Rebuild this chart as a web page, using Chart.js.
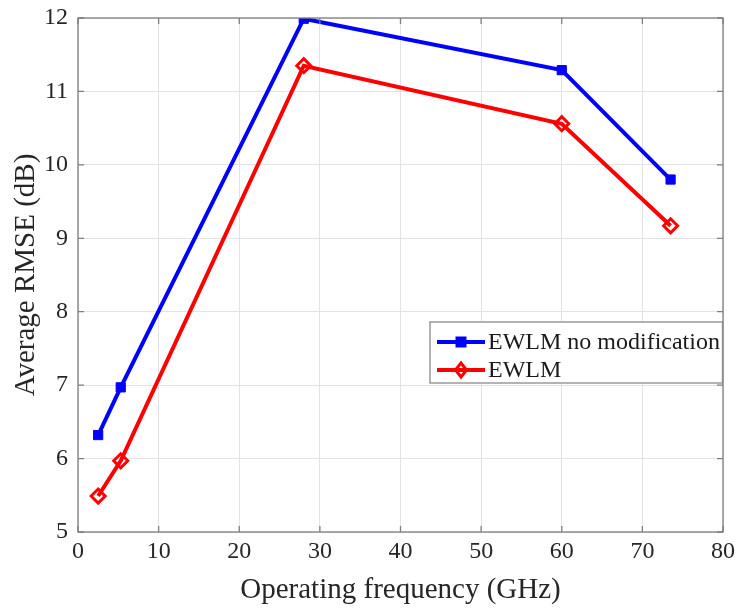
<!DOCTYPE html>
<html><head><meta charset="utf-8">
<script src="https://cdn.jsdelivr.net/npm/chart.js@4/dist/chart.umd.min.js"></script>
<style>html,body{margin:0;padding:0;background:#fff}#wrap{width:741px;height:608px}</style>
</head><body><div id="wrap"><canvas id="c" width="741" height="608"></canvas></div>
<script>
const frequencies = [2.5, 5.3, 28, 60, 73.5];
const rmseNoMod = [6.32, 6.97, 11.99, 11.29, 9.80];
const rmseEwlm = [5.49, 5.97, 11.35, 10.56, 9.17];
const seriesLabels = ['EWLM no modification', 'EWLM'];
const xTicks = [0, 10, 20, 30, 40, 50, 60, 70, 80];
const yTicks = [5, 6, 7, 8, 9, 10, 11, 12];

const FONT = 'Liberation Serif';
const AX = '#7f7f7f';

const frame = {
  id: 'frame',
  afterDraw(chart) {
    const {ctx, chartArea: a, scales} = chart;
    ctx.save();
    ctx.strokeStyle = AX; ctx.lineWidth = 1.3;
    ctx.strokeRect(a.left, a.top, a.right - a.left, a.bottom - a.top);
    const tl = 6;
    ctx.beginPath();
    xTicks.forEach(v => { const x = scales.x.getPixelForValue(v);
      ctx.moveTo(x, a.bottom); ctx.lineTo(x, a.bottom - tl);
      ctx.moveTo(x, a.top); ctx.lineTo(x, a.top + tl); });
    yTicks.forEach(v => { const y = scales.y.getPixelForValue(v);
      ctx.moveTo(a.left, y); ctx.lineTo(a.left + tl, y);
      ctx.moveTo(a.right, y); ctx.lineTo(a.right - tl, y); });
    ctx.stroke();
    // legend
    const bx = 430, by = 322, bw = a.right - bx - 0.5, bh = 61;
    ctx.fillStyle = '#fff';
    ctx.fillRect(bx, by, bw, bh);
    ctx.strokeStyle = '#8a8a8a'; ctx.lineWidth = 1.3;
    ctx.strokeRect(bx, by, bw, bh);
    ctx.font = '24px "' + FONT + '"';
    ctx.textBaseline = 'middle';
    chart.data.datasets.forEach((ds, i) => {
      const y = by + 20 + i * 28;
      ctx.strokeStyle = ds.borderColor; ctx.lineWidth = 4;
      ctx.beginPath(); ctx.moveTo(bx + 7, y); ctx.lineTo(bx + 55, y); ctx.stroke();
      ctx.lineWidth = 3;
      const cx = bx + 31;
      if (i === 0) { ctx.fillStyle = ds.borderColor; ctx.fillRect(cx - 5.5, y - 5.5, 11, 11); }
      else { ctx.beginPath(); ctx.moveTo(cx, y - 7); ctx.lineTo(cx + 5.5, y); ctx.lineTo(cx, y + 7); ctx.lineTo(cx - 5.5, y); ctx.closePath(); ctx.stroke(); }
      ctx.fillStyle = '#1a1a1a';
      ctx.fillText(ds.label, bx + 58, y + 1);
    });
    ctx.restore();
  }
};

new Chart(document.getElementById('c'), {
  type: 'line',
  data: {
    datasets: [
      { label: seriesLabels[0], data: frequencies.map((f, i) => ({x: f, y: rmseNoMod[i]})),
        borderColor: '#0000ff', backgroundColor: '#0000ff', borderWidth: 4,
        pointStyle: 'rect', pointRadius: 6.5, pointBorderWidth: 1, pointBackgroundColor: '#0000ff' },
      { label: seriesLabels[1], data: frequencies.map((f, i) => ({x: f, y: rmseEwlm[i]})),
        borderColor: '#ff0000', backgroundColor: '#ffffff', borderWidth: 4,
        pointStyle: 'rectRot', pointRadius: 7, pointBorderWidth: 3, pointBackgroundColor: 'rgba(255,255,255,0)' }
    ]
  },
  options: {
    responsive: false, animation: false, devicePixelRatio: 1,
    layout: { padding: { top: 18, right: 18, left: 0, bottom: 0 } },
    plugins: { legend: { display: false }, tooltip: { enabled: false } },
    scales: {
      x: { type: 'linear', min: 0, max: 80,
        afterBuildTicks: s => { s.ticks = xTicks.map(v => ({value: v})); },
        afterFit: s => { s.height = 76; s.paddingLeft = 0; s.paddingRight = 0; },
        grid: { color: '#e3e3e3', lineWidth: 1, drawTicks: false },
        border: { display: false },
        ticks: { color: '#262626', font: { family: FONT, size: 24 }, padding: 5, maxRotation: 0 },
        title: { display: true, text: 'Operating frequency (GHz)', color: '#262626', font: { family: FONT, size: 29 }, padding: { top: 2, bottom: 0 } } },
      y: { type: 'linear', min: 5, max: 12,
        afterBuildTicks: s => { s.ticks = yTicks.map(v => ({value: v})); },
        afterFit: s => { s.width = 78; s.paddingTop = 0; s.paddingBottom = 0; },
        grid: { color: '#e3e3e3', lineWidth: 1, drawTicks: false },
        border: { display: false },
        ticks: { color: '#262626', font: { family: FONT, size: 24 }, padding: 10 },
        title: { display: true, text: 'Average RMSE (dB)', color: '#262626', font: { family: FONT, size: 29 }, padding: { top: 9, bottom: 9 } } }
    }
  },
  plugins: [frame]
});
</script></body></html>
